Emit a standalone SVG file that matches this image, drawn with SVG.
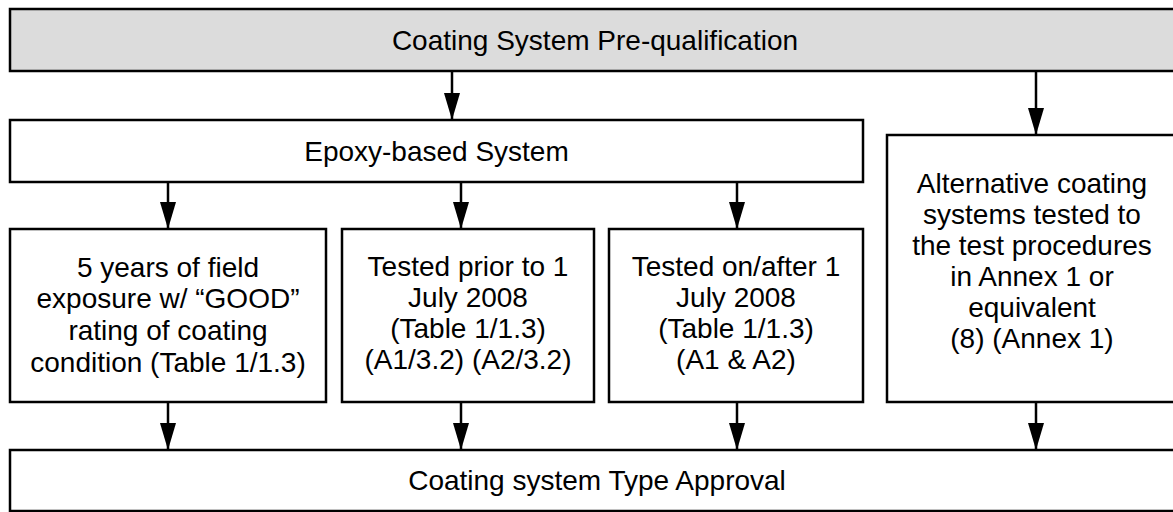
<svg xmlns="http://www.w3.org/2000/svg" width="1173" height="512" viewBox="0 0 1173 512">
<style>
.box{fill:#ffffff;stroke:#000;stroke-width:2.5}
.gray{fill:#dcdcdc}
.t{font-family:"Liberation Sans",Arial,sans-serif;font-size:28px;fill:#000;text-anchor:middle}
.c{stroke:#000;stroke-width:2.5;fill:none}
</style>
<defs>
<marker id="ah" markerWidth="27" markerHeight="16" refX="27" refY="8" orient="auto" markerUnits="userSpaceOnUse" viewBox="0 0 27 16">
<path d="M0,0 L27,8 L0,16 Z" fill="#000"/>
</marker>
</defs>
<rect width="1173" height="512" fill="#fff"/>
<g id="prequal">
<rect class="box gray" x="10" y="9" width="1175" height="62"/>
<text class="t" x="595" y="50">Coating System Pre-qualification</text>
</g>
<g id="epoxy">
<rect class="box" x="10" y="120" width="853" height="62"/>
<text class="t" x="436.5" y="161">Epoxy-based System</text>
</g>
<g id="alternative">
<rect class="box" x="887" y="135" width="300" height="267"/>
<text class="t" x="1032" y="193">Alternative coating</text>
<text class="t" x="1032" y="224">systems tested to</text>
<text class="t" x="1032" y="255">the test procedures</text>
<text class="t" x="1032" y="286">in Annex 1 or</text>
<text class="t" x="1032" y="317">equivalent</text>
<text class="t" x="1032" y="348">(8) (Annex 1)</text>
</g>
<g id="field">
<rect class="box" x="10" y="229" width="316" height="173"/>
<text class="t" x="168" y="277">5 years of field</text>
<text class="t" x="168" y="308">exposure w/ “GOOD”</text>
<text class="t" x="168" y="340">rating of coating</text>
<text class="t" x="168" y="372">condition (Table 1/1.3)</text>
</g>
<g id="prior">
<rect class="box" x="342" y="229" width="252" height="173"/>
<text class="t" x="468" y="276">Tested prior to 1</text>
<text class="t" x="468" y="307">July 2008</text>
<text class="t" x="468" y="338">(Table 1/1.3)</text>
<text class="t" x="468" y="369">(A1/3.2) (A2/3.2)</text>
</g>
<g id="after">
<rect class="box" x="609" y="229" width="254" height="173"/>
<text class="t" x="736" y="276">Tested on/after 1</text>
<text class="t" x="736" y="307">July 2008</text>
<text class="t" x="736" y="338">(Table 1/1.3)</text>
<text class="t" x="736" y="369">(A1 &amp; A2)</text>
</g>
<g id="approval">
<rect class="box" x="10" y="450" width="1175" height="61"/>
<text class="t" x="597" y="490">Coating system Type Approval</text>
</g>
<g id="connectors">
<line class="c" x1="452" y1="71" x2="452" y2="120" marker-end="url(#ah)"/>
<line class="c" x1="1036" y1="71" x2="1036" y2="135" marker-end="url(#ah)"/>
<line class="c" x1="168" y1="182" x2="168" y2="229" marker-end="url(#ah)"/>
<line class="c" x1="461" y1="182" x2="461" y2="229" marker-end="url(#ah)"/>
<line class="c" x1="737" y1="182" x2="737" y2="229" marker-end="url(#ah)"/>
<line class="c" x1="168" y1="402" x2="168" y2="450" marker-end="url(#ah)"/>
<line class="c" x1="461" y1="402" x2="461" y2="450" marker-end="url(#ah)"/>
<line class="c" x1="737" y1="402" x2="737" y2="450" marker-end="url(#ah)"/>
<line class="c" x1="1036" y1="402" x2="1036" y2="450" marker-end="url(#ah)"/>
</g>
</svg>
